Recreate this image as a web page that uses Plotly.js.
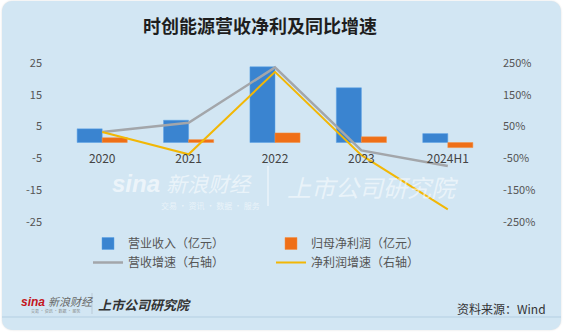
<!DOCTYPE html>
<html>
<head>
<meta charset="utf-8">
<script src="https://cdn.plot.ly/plotly-3.0.1.min.js"></script>
<style>
html,body{margin:0;padding:0;background:#ffffff;}
#card{position:absolute;left:2px;top:1px;width:559px;height:329px;background:#d2e6f3;border-radius:10px;box-shadow:0 0 2px rgba(0,0,0,0.15);}
#chart{position:absolute;left:0;top:0;width:563px;height:332px;}
</style>
</head>
<body>
<div id="card"></div>
<div id="chart"></div>
<script>
const categories = ['2020', '2021', '2022', '2023', '2024H1'];
const revenue = [4.3, 7.0, 23.8, 17.2, 2.8];        // 营业收入（亿元）
const netProfit = [1.5, 0.9, 3.0, 1.8, -1.6];       // 归母净利润（亿元）
const revenueGrowth = [33, 62, 236, -25, -74];      // 营收增速（%）
const profitGrowth = [33, -37, 222, -40, -210];     // 净利润增速（%）
const leftTicks = [-25, -15, -5, 5, 15, 25];
const rightTicks = [-250, -150, -50, 50, 150, 250];

const cjk = '"Noto Sans CJK SC", "Noto Sans", sans-serif';

// pixel helpers for decorations (plot area: x 59..491, y 63..222)
const PL = 59, PR = 491, PT = 63, PB = 222;
const px = x => (x - PL) / (PR - PL);
const py = y => (PB - y) / (PB - PT);

const traces = [
  {type: 'bar', name: '营业收入（亿元）', x: categories, y: revenue,
   marker: {color: '#3a84d0', line: {color: '#5aa0e6', width: 0.5}}, yaxis: 'y', legendrank: 1},
  {type: 'bar', name: '归母净利润（亿元）', x: categories, y: netProfit,
   marker: {color: '#ef6f17', line: {color: '#f59040', width: 0.5}}, yaxis: 'y', legendrank: 2},
  {type: 'scatter', mode: 'lines', name: '营收增速（右轴）', x: categories, y: revenueGrowth,
   line: {color: '#a3a6aa', width: 2.5}, yaxis: 'y2', legendrank: 3},
  {type: 'scatter', mode: 'lines', name: '净利润增速（右轴）', x: categories, y: profitGrowth,
   line: {color: '#f2b705', width: 2}, yaxis: 'y2', legendrank: 4}
];

const layout = {
  width: 563, height: 332,
  margin: {l: PL, r: 563 - PR, t: PT, b: 332 - PB, pad: 0},
  paper_bgcolor: 'rgba(0,0,0,0)',
  plot_bgcolor: 'rgba(0,0,0,0)',
  font: {family: cjk, color: '#555'},
  title: {text: '<b>时创能源营收净利及同比增速</b>', x: 260 / 563, xanchor: 'center',
          y: 1 - 27 / 332, yanchor: 'middle', font: {family: cjk, size: 18, color: '#1e1e1e'}},
  barmode: 'group', bargap: 0.42, bargroupgap: 0,
  showlegend: true,
  legend: {orientation: 'h', x: px(88), xanchor: 'left', y: py(229), yanchor: 'top',
           entrywidth: 138, entrywidthmode: 'pixels', traceorder: 'normal',
           bgcolor: 'rgba(0,0,0,0)', font: {family: cjk, size: 12, color: '#555'},
           tracegroupgap: 0, itemwidth: 30},
  xaxis: {type: 'category', range: [-0.5, 4.5], anchor: 'free', position: 0.5,
          showline: false, showgrid: false, zeroline: false, ticks: '',
          ticklabelstandoff: 7, tickfont: {family: cjk, size: 12, color: '#444'}},
  yaxis: {range: [-25, 25], tickvals: leftTicks, ticktext: leftTicks.map(String),
          showgrid: false, zeroline: false, showline: false, ticks: '',
          ticklabelstandoff: 16, tickfont: {family: cjk, size: 11, color: '#555'}},
  yaxis2: {range: [-250, 250], overlaying: 'y', side: 'right', tickvals: rightTicks,
           ticktext: rightTicks.map(v => v + '%'),
           showgrid: false, zeroline: false, showline: false, ticks: '',
           ticklabelstandoff: 11, tickfont: {family: cjk, size: 11, color: '#555'}},
  shapes: [
    {type: 'line', xref: 'paper', yref: 'paper', x0: px(2), x1: px(561), y0: py(317), y1: py(317),
     line: {color: '#b4cfe2', width: 1}},
    {type: 'line', xref: 'paper', yref: 'paper', x0: px(92), x1: px(92), y0: py(293), y1: py(314),
     line: {color: '#b9c9d6', width: 1}},
    {type: 'line', xref: 'paper', yref: 'paper', x0: px(268), x1: px(268), y0: py(166), y1: py(206),
     line: {color: 'rgba(255,255,255,0.55)', width: 1.5}}
  ],
  annotations: [
    // watermark
    {xref: 'paper', yref: 'paper', x: px(110), y: py(183), xanchor: 'left', yanchor: 'middle',
     text: '<b><i>sina</i></b>', showarrow: false, font: {family: 'Liberation Sans', size: 24, color: 'rgba(255,255,255,0.6)'}},
    {xref: 'paper', yref: 'paper', x: px(164), y: py(183), xanchor: 'left', yanchor: 'middle',
     text: '<i>新浪财经</i>', showarrow: false, font: {family: cjk, size: 21, color: 'rgba(255,255,255,0.55)'}},
    {xref: 'paper', yref: 'paper', x: px(210), y: py(205), xanchor: 'center', yanchor: 'middle',
     text: '交易 · 资讯 · 数据 · 服务', showarrow: false, font: {family: cjk, size: 8, color: 'rgba(255,255,255,0.55)'}},
    {xref: 'paper', yref: 'paper', x: px(285), y: py(186), xanchor: 'left', yanchor: 'middle',
     text: '<i>上市公司研究院</i>', showarrow: false, font: {family: cjk, size: 24, color: 'rgba(255,255,255,0.55)'}},
    // footer logos
    {xref: 'paper', yref: 'paper', x: px(19), y: py(302), xanchor: 'left', yanchor: 'middle',
     text: '<b><i>sina</i></b>', showarrow: false, font: {family: 'Liberation Sans', size: 12, color: '#c4161c'}},
    {xref: 'paper', yref: 'paper', x: px(46), y: py(301), xanchor: 'left', yanchor: 'middle',
     text: '<i>新浪财经</i>', showarrow: false, font: {family: cjk, size: 11, color: '#666'}},
    {xref: 'paper', yref: 'paper', x: px(55), y: py(311), xanchor: 'center', yanchor: 'middle',
     text: '交易 · 资讯 · 数据 · 服务', showarrow: false, font: {family: cjk, size: 4, color: '#888'}},
    {xref: 'paper', yref: 'paper', x: px(96), y: py(304), xanchor: 'left', yanchor: 'middle',
     text: '<b><i>上市公司研究院</i></b>', showarrow: false, font: {family: cjk, size: 13, color: '#333'}},
    {xref: 'paper', yref: 'paper', x: px(548), y: py(308), xanchor: 'right', yanchor: 'middle',
     text: '资料来源：Wind', showarrow: false, font: {family: cjk, size: 12, color: '#333'}}
  ]
};

Plotly.newPlot('chart', traces, layout, {displayModeBar: false, staticPlot: true});
</script>
</body>
</html>
